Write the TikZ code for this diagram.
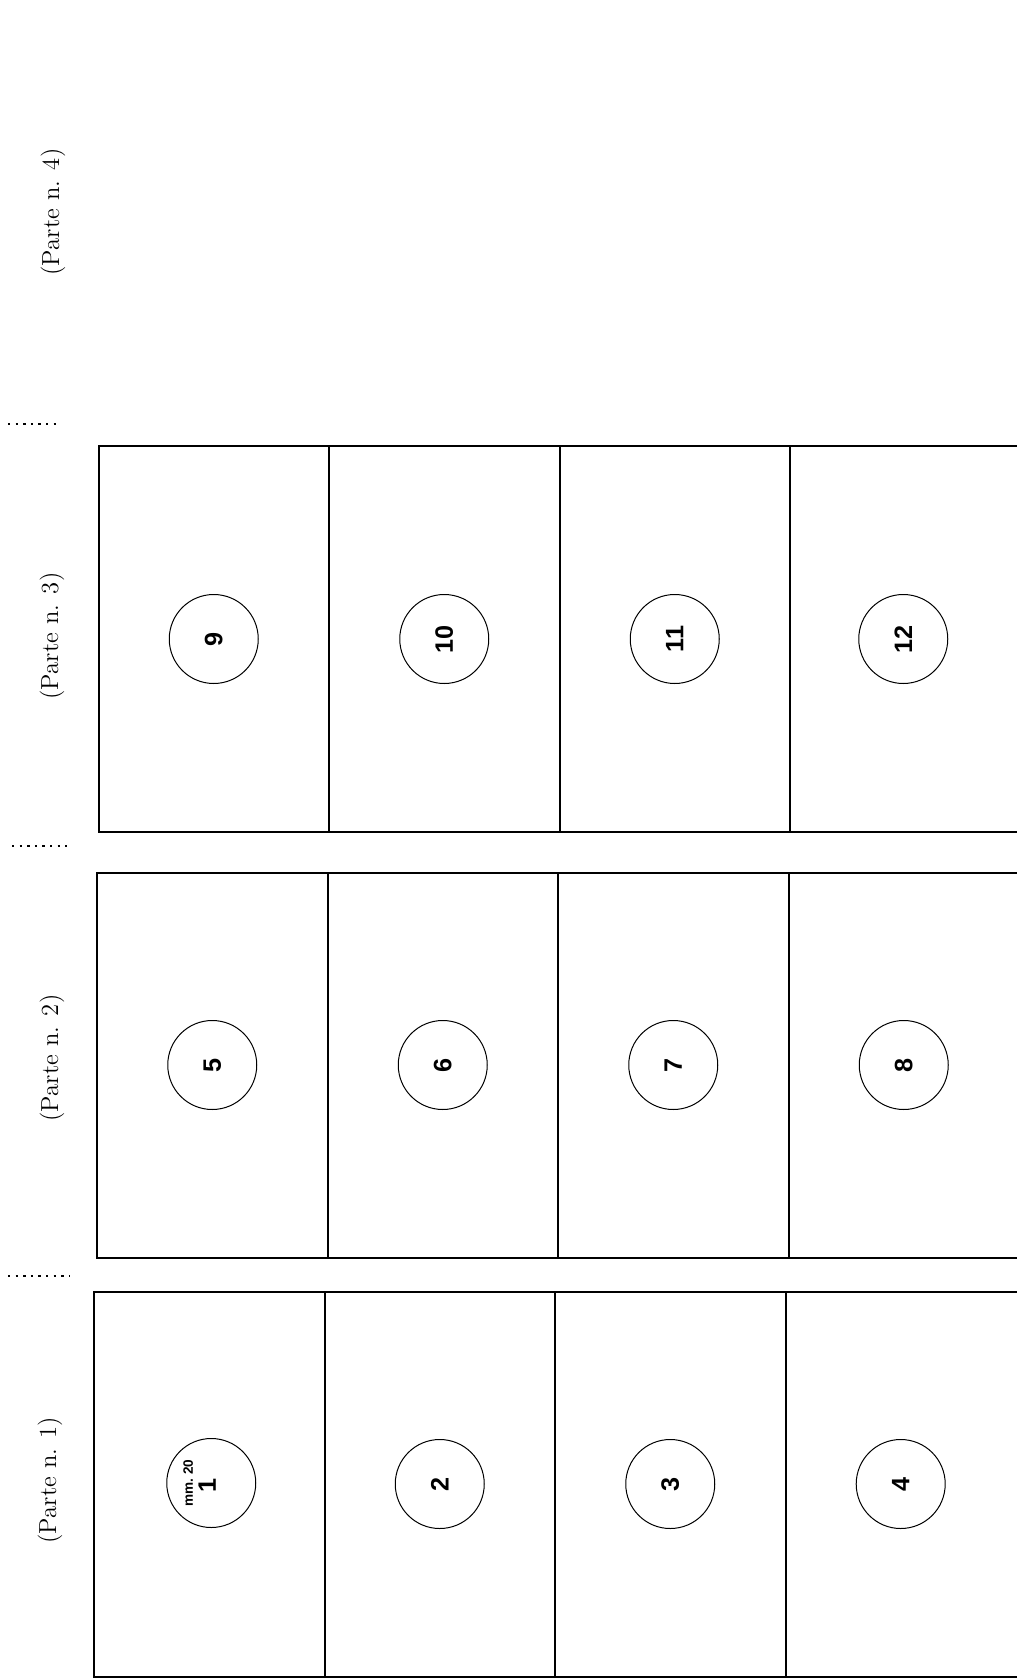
\documentclass[tikz,border=0pt]{standalone}
\usepackage{fontspec}
\newfontfamily\numfont{Liberation Sans}
\usetikzlibrary{positioning}

\begin{document}
\begin{tikzpicture}[x=0.5pt, y=-0.5pt,
  cell/.style={draw, line width=1pt, minimum width=115.25pt,
    minimum height=192.5pt, inner sep=0pt, outer sep=0pt},
  disc/.style={circle, draw, line width=0.5pt, minimum size=44.5pt,
    inner sep=0pt},
  num/.style={rotate=90, font=\numfont\bfseries\fontsize{12.6}{14}\selectfont},
  parte/.style={rotate=90, font=\fontsize{12.3}{14}\selectfont},
  cutmark/.style={line width=0.8pt, dash pattern=on 1.2pt off 2.6pt},
]
\useasboundingbox (0,0) rectangle (1016,1679);
% margin labels
\node[parte] (p4) at (53,212) {(Parte n. 4)};
\node[parte] (p3) at (52,636) {(Parte n. 3)};
\node[parte] (p2) at (52,1058) {(Parte n. 2)};
\node[parte] (p1) at (50,1480) {(Parte n. 1)};
\draw[cutmark] (8,424) -- (60,424);
\draw[cutmark] (12,846) -- (67,846);
\draw[cutmark] (8,1276) -- (70,1276);
% Parte 3
\node[cell, anchor=north west] (c9) at (98.5,446.5) {};
\node[cell, right=0pt of c9] (c10) {};
\node[cell, right=0pt of c10] (c11) {};
\node[cell, right=0pt of c11] (c12) {};
% Parte 2
\node[cell, anchor=north west] (c5) at (97,872.5) {};
\node[cell, right=0pt of c5] (c6) {};
\node[cell, right=0pt of c6] (c7) {};
\node[cell, right=0pt of c7] (c8) {};
% Parte 1 (last cell runs past the page edge)
\node[cell, anchor=north west] (c1) at (94,1291.5) {};
\node[cell, right=0pt of c1] (c2) {};
\node[cell, right=0pt of c2] (c3) {};
\node[cell, right=0pt of c3, minimum width=119pt] (c4) {};
% numbered discs
\node[disc] (d1) at ([xshift=1pt,yshift=0.5pt]c1.center) {};
\node[num] (n1) at ([xshift=-2pt,yshift=-1pt]d1.center) {1};
\node[rotate=90, font=\numfont\bfseries\fontsize{6.8}{8}\selectfont] (mm) at ([xshift=-11.5pt]d1.center) {mm.~20};
\node[disc] (d2) at (c2.center) {};
\node[num] at (d2) {2};
\node[disc] (d3) at (c3.center) {};
\node[num] at (d3) {3};
\node[disc] (d4) at ([xshift=-1.9pt]c4.center) {};
\node[num] at (d4) {4};
\node[disc] (d5) at (c5.center) {};
\node[num] at (d5) {5};
\node[disc] (d6) at (c6.center) {};
\node[num] at (d6) {6};
\node[disc] (d7) at (c7.center) {};
\node[num] at (d7) {7};
\node[disc] (d8) at (c8.center) {};
\node[num] at (d8) {8};
\node[disc] (d9) at (c9.center) {};
\node[num] at (d9) {9};
\node[disc] (d10) at (c10.center) {};
\node[num] at (d10) {10};
\node[disc] (d11) at (c11.center) {};
\node[num] at (d11) {11};
\node[disc] (d12) at ([xshift=-1pt]c12.center) {};
\node[num] at (d12) {12};
\end{tikzpicture}
\end{document}
